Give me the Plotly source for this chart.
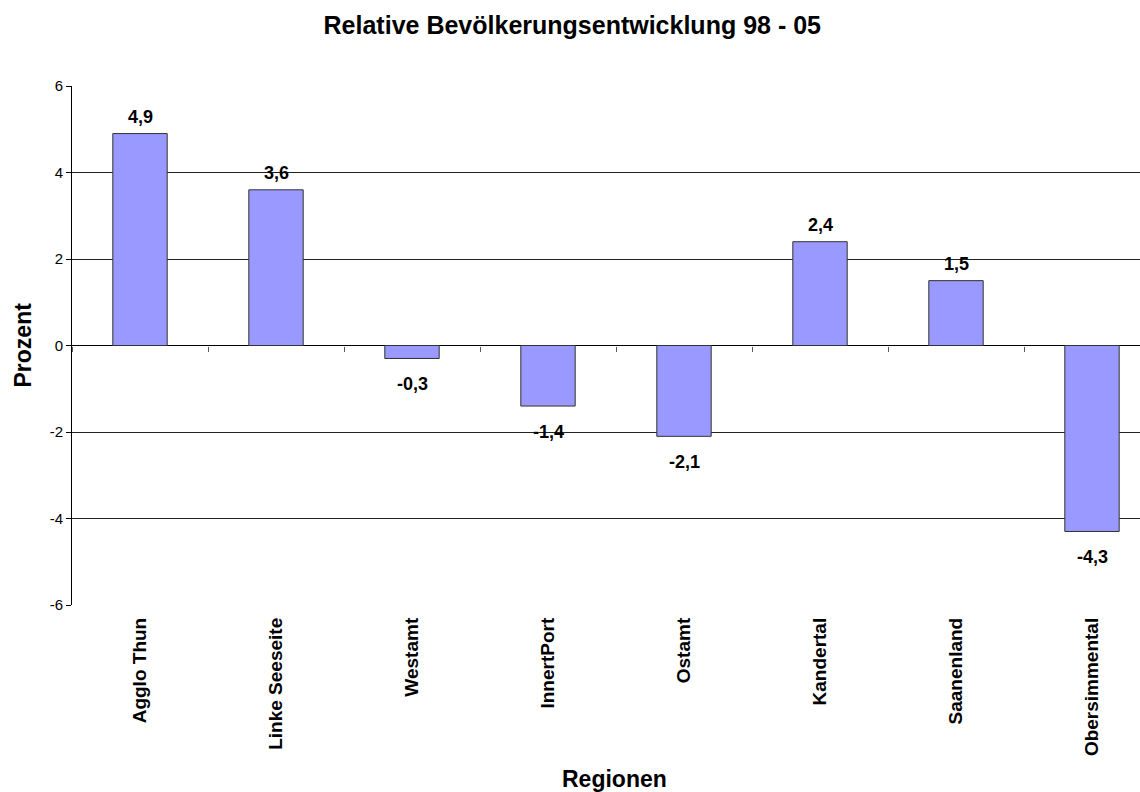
import plotly.graph_objects as go

regions = ["Agglo Thun", "Linke Seeseite", "Westamt", "InnertPort", "Ostamt",
           "Kandertal", "Saanenland", "Obersimmental"]
values = [4.9, 3.6, -0.3, -1.4, -2.1, 2.4, 1.5, -4.3]
y_ticks = [-6, -4, -2, 0, 2, 4, 6]

FONT = "Liberation Sans, Arial, sans-serif"

fig = go.Figure()
fig.add_trace(go.Bar(
    x=regions, y=values, width=0.40,
    marker=dict(color="#9999FF", line=dict(color="#333333", width=1)),
    hoverinfo="x+y", showlegend=False,
))
# helper trace for the category-boundary ticks on the zero axis
fig.add_trace(go.Scatter(x=regions, y=[None] * len(regions), xaxis="x2",
                         mode="markers", showlegend=False, hoverinfo="skip"))

annotations = []
for r, v in zip(regions, values):
    annotations.append(dict(
        x=r, y=v, xref="x", yref="y",
        text="<b>" + f"{v:.1f}".replace(".", ",") + "</b>",
        showarrow=False, yanchor="middle",
        yshift=17 if v >= 0 else -26,
        font=dict(family=FONT, size=18, color="#000"),
    ))
annotations.append(dict(
    text="<b>Prozent</b>", xref="paper", yref="paper", x=0, y=0.5,
    xshift=-50, textangle=-90, showarrow=False,
    xanchor="center", yanchor="middle",
    font=dict(family=FONT, size=23, color="#000")))
annotations.append(dict(
    text="<b>Regionen</b>", xref="paper", yref="paper", x=0.508, y=0,
    yshift=-174, showarrow=False, xanchor="center", yanchor="middle",
    font=dict(family=FONT, size=23, color="#000")))

fig.update_layout(
    width=1140, height=792,
    margin=dict(l=72, r=0, t=86, b=187),
    paper_bgcolor="white", plot_bgcolor="white",
    title=dict(text="<b>Relative Bevölkerungsentwicklung 98 - 05</b>",
               x=0.502, xanchor="center", y=1 - 25 / 792, yanchor="middle",
               font=dict(family=FONT, size=25, color="#000")),
    annotations=annotations,
    xaxis=dict(
        type="category", range=[-0.5, 7.5 - 20 / 136],
        showgrid=False, zeroline=False, showline=False,
        tickangle=-90, ticks="", ticklabelstandoff=8,
        tickfont=dict(family=FONT, size=19, color="#000"),
        tickprefix="<b>", ticksuffix="</b>",
    ),
    xaxis2=dict(
        type="category", overlaying="x", matches="x", anchor="free",
        position=0.5, side="bottom", showticklabels=False,
        ticks="outside", tickson="boundaries", ticklen=5, tickcolor="#555",
        showgrid=False, zeroline=False, showline=False,
    ),
    yaxis=dict(
        range=[-6, 6], tickvals=y_ticks, ticktext=[str(t) for t in y_ticks],
        showgrid=True, gridcolor="#222", gridwidth=1,
        zeroline=True, zerolinecolor="#000", zerolinewidth=1,
        showline=True, linecolor="#000", linewidth=1,
        ticks="outside", ticklen=5, tickcolor="#000",
        tickfont=dict(family=FONT, size=15, color="#000"),
    ),
)

fig.write_html(
    "out.html",
    config={"displayModeBar": False},
    post_script="document.body.style.margin='0';document.body.style.overflow='hidden';",
)
